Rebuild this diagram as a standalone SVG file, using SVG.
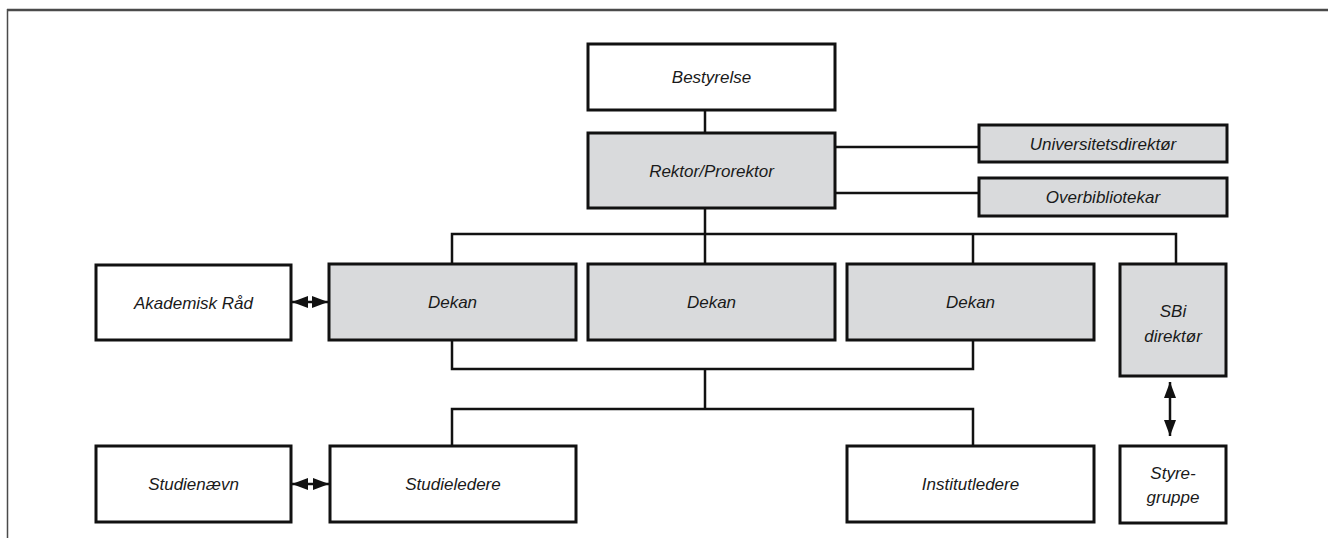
<svg xmlns="http://www.w3.org/2000/svg" width="1328" height="538" viewBox="0 0 1328 538">
<style>
.box{stroke:#111;stroke-width:3;fill:#fff}
.g{fill:#d9dadc}
.t{font-family:"Liberation Sans",Arial,sans-serif;font-style:italic;font-size:17px;fill:#1a1a1a;text-anchor:middle}
.c{fill:none;stroke:#111;stroke-width:2.5}
.frame{fill:none;stroke:#4a4a4a}
</style>
<defs>
<marker id="ah" viewBox="0 0 16 12" refX="16" refY="6" markerWidth="16" markerHeight="12" markerUnits="userSpaceOnUse" orient="auto-start-reverse">
<path d="M0,0 L16,6 L0,12 Z" fill="#111"/>
</marker>
</defs>
<g id="frame">
<line class="frame" x1="7" y1="10" x2="1328" y2="10" stroke-width="2.5"/>
<line class="frame" x1="7.5" y1="9" x2="7.5" y2="538" stroke-width="1.5"/>
</g>
<g id="connectors">
<path class="c" d="M705,110 V133"/>
<path class="c" d="M835,147 H979 M835,193 H979"/>
<path class="c" d="M705,208 V264 M452,264 V234 H1176 V264 M973,234 V264"/>
<path class="c" d="M452,340 V369 H973 V340 M705,369 V409"/>
<path class="c" d="M452,446 V409 H973 V446"/>
<line class="c" x1="292" y1="302" x2="328" y2="302" marker-start="url(#ah)" marker-end="url(#ah)"/>
<line class="c" x1="292" y1="484" x2="329" y2="484" marker-start="url(#ah)" marker-end="url(#ah)"/>
<line class="c" x1="1170" y1="382" x2="1170" y2="436" marker-start="url(#ah)" marker-end="url(#ah)"/>
</g>
<g id="bestyrelse"><rect class="box" x="588" y="44" width="247" height="66"/><text class="t" x="711.5" y="83">Bestyrelse</text></g>
<g id="rektor"><rect class="box g" x="588" y="133" width="247" height="75"/><text class="t" x="711.5" y="176.5">Rektor/Prorektor</text></g>
<g id="universitetsdirektor"><rect class="box g" x="979" y="125" width="248" height="37"/><text class="t" x="1103" y="149.5">Universitetsdirektør</text></g>
<g id="overbibliotekar"><rect class="box g" x="979" y="178" width="248" height="38"/><text class="t" x="1103" y="203">Overbibliotekar</text></g>
<g id="akademisk-raad"><rect class="box" x="96" y="265" width="195" height="75"/><text class="t" x="193.5" y="308.5">Akademisk Råd</text></g>
<g id="dekan1"><rect class="box g" x="329" y="264" width="247" height="76"/><text class="t" x="452.5" y="308">Dekan</text></g>
<g id="dekan2"><rect class="box g" x="588" y="264" width="247" height="76"/><text class="t" x="711.5" y="308">Dekan</text></g>
<g id="dekan3"><rect class="box g" x="847" y="264" width="247" height="76"/><text class="t" x="970.5" y="308">Dekan</text></g>
<g id="sbi"><rect class="box g" x="1120" y="264" width="106" height="112"/><text class="t" x="1173" y="317">SBi</text><text class="t" x="1173" y="342">direktør</text></g>
<g id="studienaevn"><rect class="box" x="96" y="446" width="195" height="76"/><text class="t" x="193.5" y="490">Studienævn</text></g>
<g id="studieledere"><rect class="box" x="330" y="446" width="246" height="76"/><text class="t" x="453" y="490">Studieledere</text></g>
<g id="institutledere"><rect class="box" x="847" y="446" width="247" height="76"/><text class="t" x="970.5" y="490">Institutledere</text></g>
<g id="styregruppe"><rect class="box" x="1120" y="446" width="106" height="77"/><text class="t" x="1173" y="478.5">Styre-</text><text class="t" x="1173" y="503">gruppe</text></g>
</svg>
